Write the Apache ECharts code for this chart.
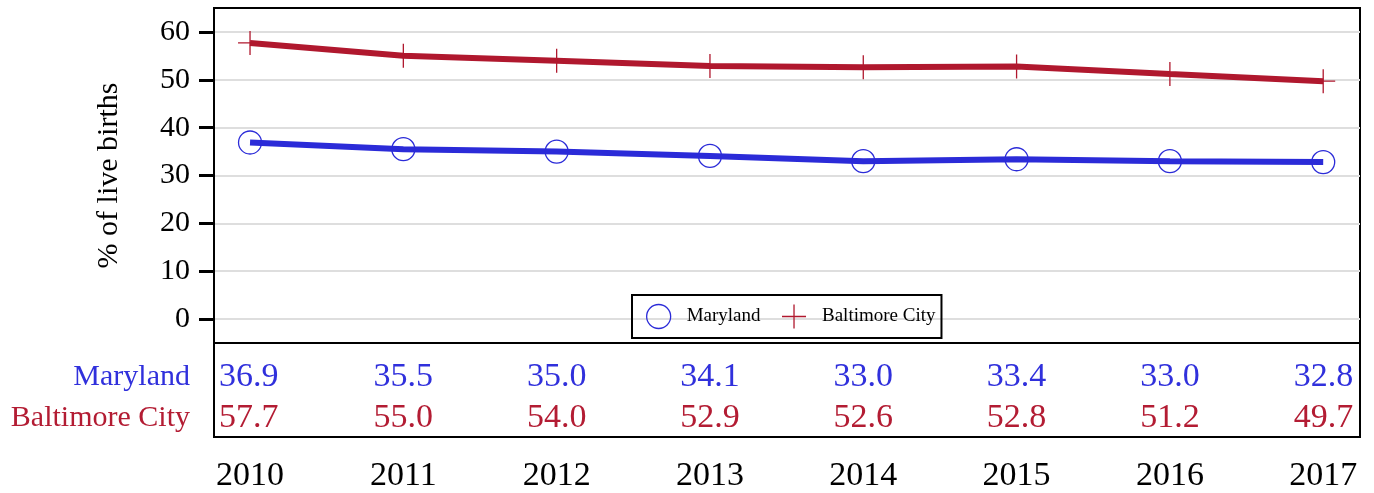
<!DOCTYPE html>
<html>
<head>
<meta charset="utf-8">
<script src="https://cdn.jsdelivr.net/npm/echarts@6/dist/echarts.min.js"></script>
<style>
  html, body { margin: 0; padding: 0; background: #fff; }
  #chart { width: 1374px; height: 493px; }
</style>
</head>
<body>
<div id="chart"></div>
<script>
// Share of live births, 2010-2017
const years = [2010, 2011, 2012, 2013, 2014, 2015, 2016, 2017];
const maryland = [36.9, 35.5, 35.0, 34.1, 33.0, 33.4, 33.0, 32.8];
const baltimore = [57.7, 55.0, 54.0, 52.9, 52.6, 52.8, 51.2, 49.7];
const seriesNames = ['Maryland', 'Baltimore City'];
const yTicks = [0, 10, 20, 30, 40, 50, 60];
const yTitle = '% of live births';

const BLUE = '#2b2bd8';
const RED = '#b0182e';
const BLUE_TEXT = '#3030dc';
const RED_TEXT = '#b31c33';
const FONT = '"Liberation Serif", "Times New Roman", serif';
const PLUS = 'path://M0,-12L0,12M-12,0L12,0';

// Row positions inside the table strip (Maryland on top)
const rowOf = { 'Maryland': 1, 'Baltimore City': 0 };

function tableRow(values, name, color) {
  return {
    type: 'scatter',
    xAxisIndex: 1,
    yAxisIndex: 1,
    symbolSize: 1,
    itemStyle: { color: 'rgba(0,0,0,0)', opacity: 1 },
    silent: true,
    data: years.map((yr, i) => {
      const item = { value: [yr, rowOf[name], values[i]] };
      if (i === 0) item.label = { align: 'left', offset: [-31, 0] };
      if (i === years.length - 1) item.label = { align: 'right', offset: [30, 0] };
      return item;
    }),
    label: {
      show: true,
      position: 'inside',
      formatter: p => p.value[2].toFixed(1),
      color: color,
      fontSize: 34,
      fontFamily: FONT
    }
  };
}

const chart = echarts.init(document.getElementById('chart'), null, { renderer: 'canvas' });

chart.setOption({
  animation: false,
  backgroundColor: '#fff',
  textStyle: { fontFamily: FONT, color: '#000' },
  grid: [
    { left: 214, top: 8, width: 1146, height: 335, show: true, borderColor: '#000', borderWidth: 2, backgroundColor: 'transparent' },
    { left: 214, top: 343, width: 1146, height: 94, show: true, borderColor: '#000', borderWidth: 2, backgroundColor: 'transparent' }
  ],
  legend: {
    left: 632,
    top: 295,
    orient: 'horizontal',
    borderColor: '#000',
    borderWidth: 2,
    backgroundColor: 'transparent',
    padding: [7, 6, 7, 14],
    itemWidth: 24,
    itemHeight: 24,
    itemGap: 19,
    textStyle: { fontSize: 19, fontFamily: FONT, color: '#000', padding: [0, 0, 0, 11] },
    data: [
      { name: seriesNames[0], icon: 'circle', itemStyle: { color: 'rgba(0,0,0,0)', borderColor: BLUE, borderWidth: 1.3 } },
      { name: seriesNames[1], icon: PLUS, itemStyle: { color: 'none', borderColor: RED, borderWidth: 1.3 } }
    ]
  },
  xAxis: [
    {
      gridIndex: 0, type: 'value', min: 2009.765, max: 2017.24,
      axisLine: { show: false }, axisTick: { show: false }, axisLabel: { show: false }, splitLine: { show: false }
    },
    {
      gridIndex: 1, type: 'value', min: 2009.765, max: 2017.24,
      axisLine: { show: false },
      axisTick: { show: false },
      splitLine: { show: false },
      axisLabel: {
        customValues: years,
        formatter: v => String(v),
        fontSize: 34,
        margin: 22,
        color: '#000'
      }
    }
  ],
  yAxis: [
    {
      gridIndex: 0, type: 'value', min: -5, max: 65,
      name: yTitle,
      nameLocation: 'middle',
      nameGap: 90,
      nameTextStyle: { fontSize: 30, color: '#000' },
      axisLine: { show: true, lineStyle: { color: '#000', width: 2 } },
      axisTick: { show: true, customValues: yTicks, length: 15, lineStyle: { color: '#000', width: 3 } },
      axisLabel: { customValues: yTicks, fontSize: 30, margin: 24, color: '#000' },
      splitLine: { show: true, lineStyle: { color: '#dedede', width: 2 } }
    },
    {
      gridIndex: 1, type: 'value', min: -0.463, max: 1.829,
      axisLine: { show: false },
      axisTick: { show: false },
      splitLine: { show: false },
      axisLabel: {
        customValues: [0, 1],
        margin: 24,
        formatter: v => v === 1 ? '{m|' + seriesNames[0] + '}' : '{b|' + seriesNames[1] + '}',
        rich: {
          m: { fontSize: 30, color: BLUE_TEXT, fontFamily: FONT },
          b: { fontSize: 30, color: RED_TEXT, fontFamily: FONT }
        }
      }
    }
  ],
  series: [
    {
      name: seriesNames[0],
      type: 'line',
      xAxisIndex: 0, yAxisIndex: 0,
      data: years.map((yr, i) => [yr, maryland[i]]),
      lineStyle: { color: BLUE, width: 6 },
      symbol: 'circle',
      symbolSize: 23,
      itemStyle: { color: 'rgba(0,0,0,0)', borderColor: BLUE, borderWidth: 1.3 },
      emphasis: { disabled: true },
      z: 3
    },
    {
      name: seriesNames[1],
      type: 'line',
      xAxisIndex: 0, yAxisIndex: 0,
      data: years.map((yr, i) => [yr, baltimore[i]]),
      lineStyle: { color: RED, width: 6 },
      symbol: PLUS,
      symbolSize: 24,
      itemStyle: { color: 'none', borderColor: RED, borderWidth: 1.3 },
      emphasis: { disabled: true },
      z: 3
    },
    tableRow(maryland, seriesNames[0], BLUE_TEXT),
    tableRow(baltimore, seriesNames[1], RED_TEXT)
  ]
});
</script>
</body>
</html>
